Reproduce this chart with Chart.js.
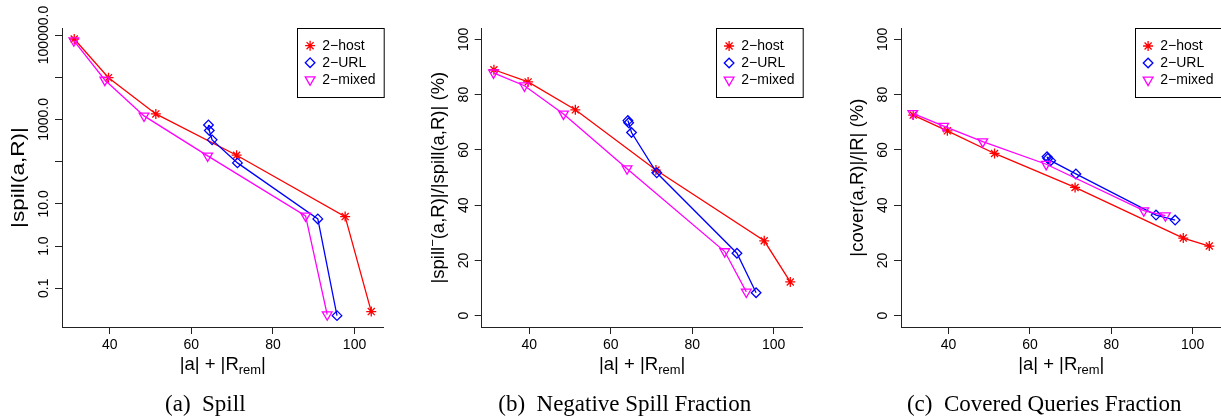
<!DOCTYPE html>
<html>
<head>
<meta charset="utf-8">
<script src="https://cdn.jsdelivr.net/npm/chart.js@4.4.0/dist/chart.umd.min.js"></script>
<style>
  html, body { margin: 0; padding: 0; background: #fff; overflow: hidden; }
  body { width: 1221px; height: 420px; position: relative; }
  .panel { position: absolute; top: 0; height: 420px; }
</style>
</head>
<body>
<div class="panel" style="left:0"><canvas id="spill" width="400" height="420"></canvas></div>
<div class="panel" style="left:400px"><canvas id="negspill" width="410" height="420"></canvas></div>
<div class="panel" style="left:810px"><canvas id="covered" width="430" height="420"></canvas></div>
<script>
// ---- data ----
var seriesNames  = ['2\u2212host', '2\u2212URL', '2\u2212mixed'];
var xTicks       = [40, 60, 80, 100];
var spillTicks   = [0.1, 1, 10, 100, 1000, 10000, 100000];
var spillLabels  = ['0.1', '1.0', '10.0', '', '1000.0', '', '100000.0'];
var pctTicks     = [0, 20, 40, 60, 80, 100];
var pctLabels    = ['0', '20', '40', '60', '80', '100'];

// |a| + |R_rem|
var hostX  = [31.3, 39.7, 51.3, 71.1, 97.7, 104.1];
var urlX   = [64.2, 64.4, 65.1, 71.3, 91.0, 95.7];
var mixedX = [31.2, 38.8, 48.4, 64.0, 88.0, 93.3];

// (a) |spill(a,R)|
var hostSpill  = [80400, 9770, 1350, 142, 5.0, 0.028];
var urlSpill   = [741, 546, 328, 93.5, 4.4, 0.0225];
var mixedSpill = [73500, 8600, 1213, 137, 5.2, 0.0237];

// (b) negative spill fraction (%)
var hostNeg  = [89.0, 84.6, 74.5, 52.7, 27.1, 12.2];
var urlNeg   = [70.6, 69.8, 66.3, 51.7, 22.6, 8.3];
var mixedNeg = [87.9, 83.2, 73.0, 53.2, 23.2, 8.6];

// (c) covered queries fraction (%)
var hostCov  = [72.6, 66.9, 58.7, 46.4, 28.1, 25.2];
var urlCov   = [57.5, 56.9, 56.1, 51.3, 36.4, 34.6];
var mixedCov = [73.2, 68.6, 63.0, 54.8, 38.0, 36.2];

var SANS  = '"Liberation Sans", Arial, Helvetica, sans-serif';
var SERIF = '"Liberation Serif", "Times New Roman", serif';

var styles = [
    {color: '#ff0000', pointStyle: 'star',     radius: 5,   rotation: 0,   order: 2},
    {color: '#0000ff', pointStyle: 'rectRot',  radius: 4.8, rotation: 0,   order: 1},
    {color: '#ff00ff', pointStyle: 'triangle', radius: 5.6, rotation: 180, order: 0}
];

function points(xs, ys) {
    return xs.map(function (x, i) { return {x: x, y: ys[i]}; });
}

// draw a row of text pieces: [text, sizeFactor, dy]
function drawRuns(ctx, runs, x, y, size, family) {
    var total = 0;
    runs.forEach(function (r) {
        ctx.font = (size * r[1]) + 'px ' + family;
        total += ctx.measureText(r[0]).width;
    });
    var cx = x - total / 2;
    ctx.textAlign = 'left';
    ctx.textBaseline = 'alphabetic';
    runs.forEach(function (r) {
        ctx.font = (size * r[1]) + 'px ' + family;
        ctx.fillText(r[0], cx, y + r[2]);
        cx += ctx.measureText(r[0]).width;
    });
}

function marker(ctx, st, x, y) {
    ctx.save();
    ctx.strokeStyle = st.color;
    ctx.fillStyle = 'rgba(0,0,0,0)';
    ctx.lineWidth = 1.3;
    Chart.helpers.drawPoint(ctx, {pointStyle: st.pointStyle, radius: st.radius, rotation: st.rotation, borderWidth: 1.3}, x, y);
    ctx.restore();
}

var rText = {
    id: 'rText',
    afterDraw: function (chart, args, o) {
        var ctx = chart.ctx, a = chart.chartArea;
        var xs = chart.scales.x, ys = chart.scales.y;
        ctx.save();
        ctx.fillStyle = '#000';

        // tick labels
        ctx.font = '14px ' + SANS;
        ctx.textAlign = 'center';
        ctx.textBaseline = 'alphabetic';
        xTicks.forEach(function (v) {
            ctx.fillText(String(v), xs.getPixelForValue(v), a.bottom + 22);
        });
        o.yTicks.forEach(function (v, i) {
            if (!o.yLabels[i]) return;
            ctx.save();
            ctx.translate(a.left - 14, ys.getPixelForValue(v));
            ctx.rotate(-Math.PI / 2);
            ctx.fillText(o.yLabels[i], 0, 0);
            ctx.restore();
        });

        // axis titles
        drawRuns(ctx, [['|a| + |R', 1, 0], ['rem', 0.7, 3.5], ['|', 1, 0]],
            (a.left + a.right) / 2, a.bottom + 43, 18.5, SANS);
        ctx.save();
        ctx.translate(a.left - 38, (a.top + a.bottom) / 2);
        ctx.rotate(-Math.PI / 2);
        ctx.scale(o.yTitleStretch || 1, 1);
        drawRuns(ctx, o.yTitle, 0, 0, 18.5, SANS);
        ctx.restore();

        // legend box, top right of the plot region
        var lw = 86.7, lh = 69, lx = a.right - lw, ly = a.top;
        ctx.fillStyle = '#fff';
        ctx.fillRect(lx, ly, lw, lh);
        ctx.strokeStyle = '#000';
        ctx.lineWidth = 1;
        ctx.strokeRect(Math.round(lx) + 0.5, Math.round(ly) + 0.5, lw, lh);
        ctx.fillStyle = '#000';
        ctx.font = '14px ' + SANS;
        ctx.textAlign = 'left';
        ctx.textBaseline = 'middle';
        seriesNames.forEach(function (name, i) {
            var cy = ly + 17.7 + i * 17;
            marker(ctx, styles[i], lx + 13.3, cy);
            ctx.fillStyle = '#000';
            ctx.fillText(name, lx + 25.5, cy + 0.5);
        });

        // caption
        drawRuns(ctx, o.caption, o.captionX, 411, 23, SERIF);
        ctx.restore();
    }
};

function makeChart(id, cfg) {
    var canvas = document.getElementById(id);
    var W = canvas.width;
    var ys = [cfg.host, cfg.url, cfg.mixed];
    var xsData = [hostX, urlX, mixedX];
    return new Chart(canvas.getContext('2d'), {
        type: 'line',
        data: {
            datasets: seriesNames.map(function (name, i) {
                var st = styles[i];
                return {
                    label: name,
                    data: points(xsData[i], ys[i]),
                    borderColor: st.color,
                    borderWidth: 1.3,
                    fill: false,
                    tension: 0,
                    order: st.order,
                    pointStyle: st.pointStyle,
                    pointRadius: st.radius,
                    pointRotation: st.rotation,
                    pointBorderColor: st.color,
                    pointBackgroundColor: 'rgba(0,0,0,0)',
                    pointBorderWidth: 1.3
                };
            })
        },
        options: {
            responsive: false,
            animation: false,
            events: [],
            layout: {padding: {left: 0, top: cfg.area.t, right: W - cfg.area.r, bottom: 0}},
            scales: {
                x: {
                    type: 'linear',
                    min: 28.3,
                    max: 107.1,
                    afterBuildTicks: function (s) { s.ticks = xTicks.map(function (v) { return {value: v}; }); },
                    afterFit: function (s) { s.height = 420 - cfg.area.b; },
                    ticks: {display: false},
                    grid: {display: true, drawOnChartArea: false, drawTicks: true, tickLength: 7, color: '#222', lineWidth: 1},
                    border: {display: true, color: '#222', width: 1}
                },
                y: {
                    type: cfg.yType,
                    min: cfg.yMin,
                    max: cfg.yMax,
                    afterBuildTicks: function (s) { s.ticks = cfg.yTicks.map(function (v) { return {value: v}; }); },
                    afterFit: function (s) { s.width = cfg.area.l; },
                    ticks: {display: false},
                    grid: {display: true, drawOnChartArea: false, drawTicks: true, tickLength: 7, color: '#222', lineWidth: 1},
                    border: {display: true, color: '#222', width: 1}
                }
            },
            plugins: {
                legend: {display: false},
                tooltip: {enabled: false},
                rText: {
                    yTicks: cfg.yTicks,
                    yLabels: cfg.yLabels,
                    yTitle: cfg.yTitle,
                    yTitleStretch: cfg.yTitleStretch,
                    caption: cfg.caption,
                    captionX: cfg.captionX
                }
            }
        },
        plugins: [rText]
    });
}

makeChart('spill', {
    area: {l: 62, t: 28, r: 383.5, b: 327},
    yType: 'logarithmic', yMin: 0.0121, yMax: 146600,
    yTicks: spillTicks, yLabels: spillLabels,
    host: hostSpill, url: urlSpill, mixed: mixedSpill,
    yTitle: [['|spill(a,R)|', 1, 0]], yTitleStretch: 1.22,
    caption: [['(a)  Spill', 1, 0]], captionX: 205.3
});

makeChart('negspill', {
    area: {l: 81.7, t: 28.3, r: 402.5, b: 327},
    yType: 'linear', yMin: -4.1, yMax: 104,
    yTicks: pctTicks, yLabels: pctLabels,
    host: hostNeg, url: urlNeg, mixed: mixedNeg,
    yTitle: [['|spill', 1, 0], ['\u2212', 0.7, -7], ['(a,R)|/|spill(a,R)| (%)', 1, 0]],
    caption: [['(b)  Negative Spill Fraction', 1, 0]], captionX: 224.7
});

makeChart('covered', {
    area: {l: 91, t: 28.3, r: 411.5, b: 327},
    yType: 'linear', yMin: -4.1, yMax: 104,
    yTicks: pctTicks, yLabels: pctLabels,
    host: hostCov, url: urlCov, mixed: mixedCov,
    yTitle: [['|cover(a,R)|/|R| (%)', 1, 0]],
    caption: [['(c)  Covered Queries Fraction', 1, 0]], captionX: 234.2
});
</script>
</body>
</html>
